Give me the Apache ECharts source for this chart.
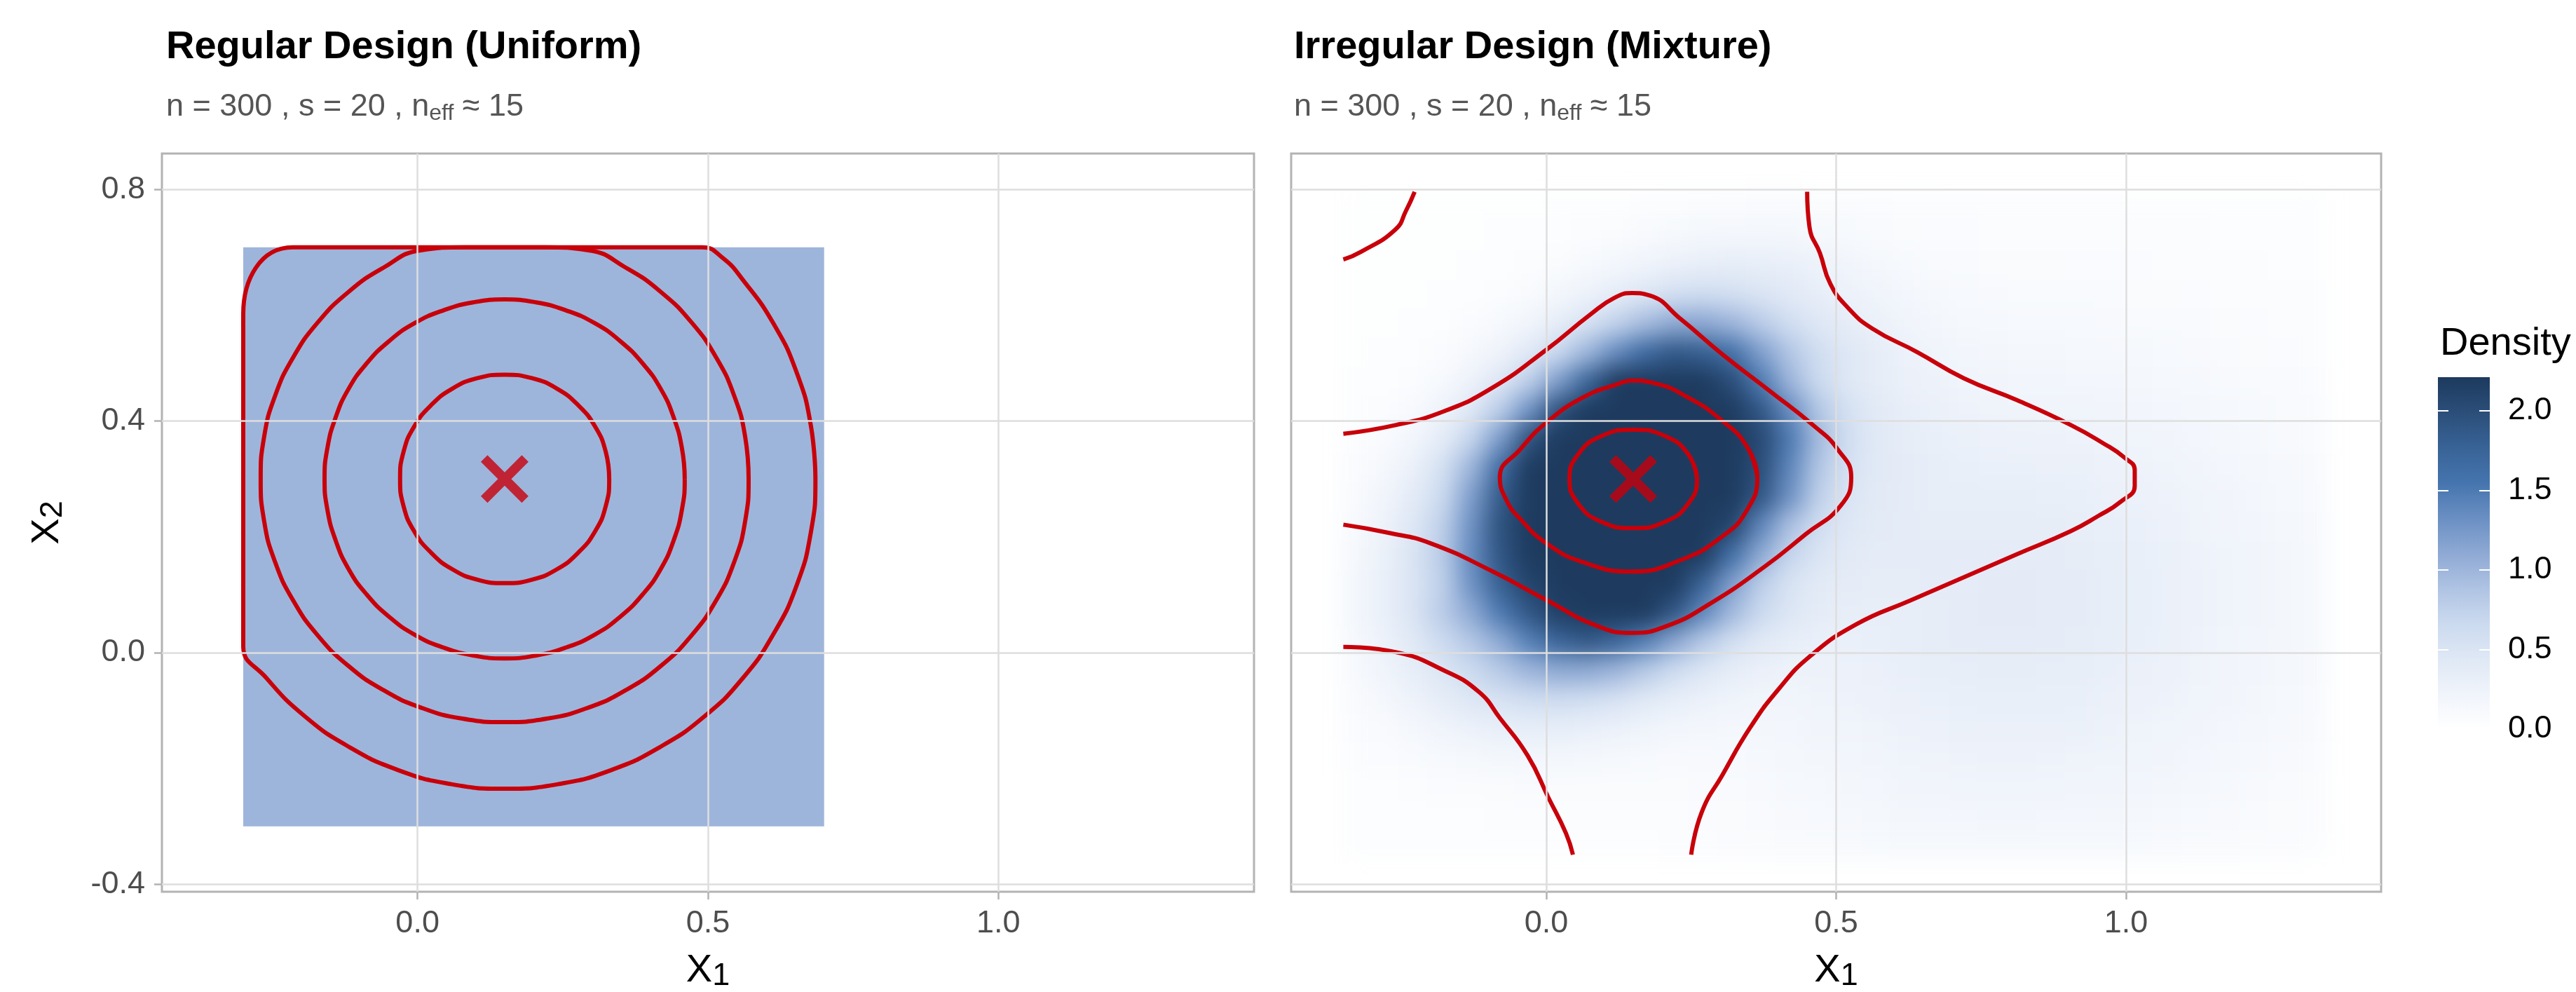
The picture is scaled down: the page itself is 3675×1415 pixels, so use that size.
<!DOCTYPE html>
<html>
<head>
<meta charset="utf-8">
<script src="https://cdn.jsdelivr.net/npm/echarts@6/dist/echarts.min.js"></script>
<style>
html, body { margin: 0; padding: 0; background: #fff; }
#chart { width: 3675px; height: 1415px; }
</style>
</head>
<body>
<div id="chart"></div>
<script>
var FONT = '"Liberation Sans", Arial, sans-serif';
var RED = '#C8000A';

// axis ticks
var xTicks = [0.0, 0.5, 1.0];
var yTicks = [-0.4, 0.0, 0.4, 0.8];
var legendTicks = [0.0, 0.5, 1.0, 1.5, 2.0];

// target point (the X)
var target = [[0.15, 0.30]];

// uniform design region: x0, y0, density, x1, y1
var uniformSquare = [[-0.3, -0.3, 1.0, 0.7, 0.7]];

// contours, left panel (regular design)
var leftC1 = [[0.33,0.30],[0.324,0.347],[0.306,0.39],[0.277,0.427],[0.24,0.456],[0.197,0.474],[0.15,0.48],[0.103,0.474],[0.06,0.456],[0.023,0.427],[-0.006,0.39],[-0.024,0.347],[-0.03,0.30],[-0.024,0.253],[-0.006,0.21],[0.023,0.173],[0.06,0.144],[0.103,0.126],[0.15,0.12],[0.197,0.126],[0.24,0.144],[0.277,0.173],[0.306,0.21],[0.324,0.253],[0.33,0.30],[0.324,0.347]];
var leftC2 = [[0.46,0.30],[0.455,0.354],[0.441,0.406],[0.419,0.455],[0.388,0.499],[0.349,0.538],[0.305,0.569],[0.256,0.591],[0.204,0.605],[0.15,0.61],[0.096,0.605],[0.044,0.591],[-0.005,0.569],[-0.049,0.538],[-0.088,0.499],[-0.119,0.455],[-0.141,0.406],[-0.155,0.354],[-0.16,0.30],[-0.155,0.246],[-0.141,0.194],[-0.119,0.145],[-0.088,0.101],[-0.049,0.062],[-0.005,0.031],[0.044,0.009],[0.096,-0.005],[0.15,-0.01],[0.204,-0.005],[0.256,0.009],[0.305,0.031],[0.349,0.062],[0.388,0.101],[0.419,0.145],[0.441,0.194],[0.455,0.246],[0.46,0.30],[0.455,0.354]];
var leftC3 = [[0.57,0.30],[0.564,0.373],[0.545,0.444],[0.514,0.51],[0.472,0.57],[0.42,0.622],[0.36,0.664],[0.294,0.695],[0.22,0.70],[0.15,0.70],[0.08,0.70],[0.006,0.695],[-0.06,0.664],[-0.12,0.622],[-0.172,0.57],[-0.214,0.51],[-0.245,0.444],[-0.264,0.373],[-0.27,0.30],[-0.264,0.227],[-0.245,0.156],[-0.214,0.09],[-0.172,0.03],[-0.12,-0.022],[-0.06,-0.064],[0.006,-0.095],[0.077,-0.114],[0.15,-0.12],[0.223,-0.114],[0.294,-0.095],[0.36,-0.064],[0.42,-0.022],[0.472,0.03],[0.514,0.09],[0.545,0.156],[0.564,0.227],[0.57,0.30],[0.564,0.373]];
var leftC4 = [[0.685,0.30],[0.677,0.393],[0.653,0.483],[0.613,0.568],[0.56,0.644],[0.525,0.682],[0.49,0.70],[0.40,0.70],[0.15,0.70],[-0.10,0.70],[-0.215,0.70],[-0.30,0.585],[-0.30,0.56],[-0.30,0.30],[-0.30,0.04],[-0.30,0.011],[-0.26,-0.044],[-0.194,-0.11],[-0.1175,-0.163],[-0.033,-0.203],[0.057,-0.227],[0.15,-0.235],[0.243,-0.227],[0.333,-0.203],[0.4175,-0.163],[0.494,-0.11],[0.56,-0.044],[0.613,0.0325],[0.653,0.117],[0.677,0.207],[0.685,0.30],[0.677,0.393]];

// contours, right panel (irregular design)
var rightC1 = [[0.26,0.30],[0.245,0.3425],[0.205,0.374],[0.15,0.385],[0.095,0.374],[0.055,0.3425],[0.04,0.30],[0.055,0.2575],[0.095,0.226],[0.15,0.215],[0.205,0.226],[0.245,0.2575],[0.26,0.30],[0.245,0.3425]];
var rightC2 = [[0.364,0.303],[0.346,0.356],[0.304,0.40],[0.244,0.441],[0.184,0.466],[0.148,0.47],[0.124,0.464],[0.064,0.441],[0.0,0.397],[-0.044,0.352],[-0.08,0.303],[-0.068,0.262],[-0.044,0.23],[0.0,0.189],[0.064,0.156],[0.148,0.14],[0.232,0.16],[0.304,0.201],[0.346,0.246],[0.364,0.303],[0.346,0.356]];
var rightC3 = [[-0.35,0.378],[-0.26,0.393],[-0.176,0.417],[-0.092,0.458],[0.0,0.523],[0.076,0.584],[0.118,0.613],[0.148,0.621],[0.178,0.617],[0.232,0.576],[0.304,0.515],[0.388,0.45],[0.46,0.393],[0.502,0.352],[0.526,0.303],[0.508,0.254],[0.448,0.205],[0.376,0.148],[0.28,0.083],[0.208,0.046],[0.148,0.034],[0.088,0.046],[0.0,0.091],[-0.092,0.14],[-0.2,0.189],[-0.272,0.207],[-0.35,0.221]];
var rightC4 = [[-0.35,0.679],[-0.32,0.692],[-0.26,0.731],[-0.242,0.763],[-0.227,0.796]];
var rightC5 = [[-0.35,0.01],[-0.26,0.001],[-0.176,-0.031],[-0.116,-0.068],[-0.08,-0.113],[-0.032,-0.178],[0.004,-0.251],[0.034,-0.312],[0.046,-0.349]];
var rightC6 = [[0.45,0.796],[0.454,0.735],[0.472,0.69],[0.49,0.637],[0.52,0.596],[0.562,0.56],[0.64,0.519],[0.72,0.474],[0.812,0.436],[0.905,0.393],[0.96,0.362],[0.997,0.337],[1.015,0.315],[1.015,0.288],[0.99,0.26],[0.952,0.236],[0.905,0.21],[0.812,0.17],[0.72,0.13],[0.628,0.09],[0.535,0.049],[0.454,-0.007],[0.4,-0.064],[0.352,-0.129],[0.304,-0.211],[0.268,-0.276],[0.25,-0.349]];

// density grid (cell centres) and values, bottom row first
var gridX = [-0.33,-0.28,-0.23,-0.18,-0.13,-0.08,-0.03,0.02,0.07,0.12,0.17,0.22,0.27,0.32,0.37,0.42,0.47,0.52,0.57,0.62,0.67,0.72,0.77,0.82,0.87,0.92,0.97,1.02,1.07,1.12,1.17,1.22,1.27,1.32];
var gridY = [-0.33,-0.28,-0.23,-0.18,-0.13,-0.08,-0.03,0.02,0.07,0.12,0.17,0.22,0.27,0.32,0.37,0.42,0.47,0.52,0.57,0.62,0.67,0.72,0.77];
var densityRows = [
  [0.04,0.04,0.04,0.04,0.04,0.04,0.04,0.05,0.05,0.05,0.05,0.06,0.07,0.08,0.09,0.10,0.11,0.12,0.13,0.14,0.15,0.15,0.15,0.15,0.15,0.15,0.14,0.13,0.12,0.11,0.10,0.09,0.08,0.07],
  [0.04,0.04,0.05,0.05,0.05,0.06,0.06,0.06,0.06,0.06,0.07,0.07,0.08,0.09,0.10,0.12,0.13,0.14,0.16,0.17,0.18,0.18,0.19,0.19,0.18,0.18,0.17,0.16,0.15,0.13,0.12,0.11,0.09,0.08],
  [0.04,0.05,0.06,0.08,0.09,0.09,0.10,0.09,0.09,0.09,0.09,0.09,0.10,0.11,0.12,0.14,0.15,0.17,0.18,0.20,0.21,0.22,0.22,0.22,0.22,0.21,0.20,0.19,0.17,0.16,0.14,0.12,0.11,0.09],
  [0.06,0.08,0.10,0.13,0.15,0.17,0.18,0.17,0.16,0.15,0.13,0.12,0.12,0.13,0.14,0.16,0.17,0.19,0.21,0.23,0.24,0.25,0.26,0.26,0.25,0.24,0.23,0.22,0.20,0.18,0.16,0.14,0.12,0.11],
  [0.08,0.11,0.16,0.22,0.27,0.32,0.34,0.34,0.31,0.27,0.23,0.19,0.17,0.16,0.17,0.18,0.20,0.22,0.24,0.26,0.27,0.28,0.29,0.29,0.29,0.28,0.26,0.24,0.22,0.20,0.18,0.16,0.14,0.12],
  [0.10,0.16,0.25,0.35,0.45,0.53,0.60,0.63,0.60,0.53,0.43,0.34,0.27,0.23,0.21,0.21,0.23,0.25,0.27,0.29,0.30,0.31,0.32,0.32,0.32,0.31,0.29,0.27,0.25,0.22,0.20,0.17,0.15,0.13],
  [0.13,0.22,0.34,0.48,0.65,0.82,1.00,1.10,1.10,1.00,0.82,0.63,0.47,0.35,0.29,0.26,0.26,0.27,0.29,0.31,0.33,0.34,0.35,0.35,0.34,0.33,0.31,0.29,0.27,0.24,0.21,0.19,0.16,0.14],
  [0.15,0.26,0.43,0.64,0.85,1.10,1.45,1.75,1.88,1.74,1.46,1.13,0.83,0.59,0.42,0.34,0.30,0.30,0.31,0.33,0.35,0.36,0.37,0.37,0.36,0.35,0.33,0.31,0.28,0.25,0.22,0.19,0.17,0.14],
  [0.17,0.30,0.50,0.80,1.10,1.50,1.90,2.15,2.2,2.2,2.2,1.90,1.39,0.97,0.66,0.47,0.37,0.33,0.33,0.34,0.35,0.37,0.38,0.38,0.37,0.36,0.34,0.32,0.29,0.26,0.23,0.20,0.17,0.15],
  [0.17,0.30,0.50,0.75,1.30,1.80,2.10,2.2,2.2,2.2,2.2,2.2,1.75,1.20,0.78,0.52,0.40,0.36,0.35,0.35,0.36,0.37,0.38,0.38,0.37,0.36,0.34,0.32,0.29,0.26,0.23,0.20,0.17,0.15],
  [0.15,0.28,0.50,0.80,1.35,1.90,2.2,2.2,2.2,2.2,2.2,2.2,2.2,1.60,1.10,0.70,0.50,0.40,0.37,0.36,0.36,0.36,0.37,0.37,0.36,0.35,0.33,0.31,0.28,0.25,0.23,0.20,0.17,0.14],
  [0.13,0.25,0.45,0.75,1.30,1.95,2.2,2.2,2.2,2.2,2.2,2.2,2.2,2.10,1.40,0.90,0.60,0.45,0.39,0.36,0.35,0.35,0.35,0.35,0.35,0.33,0.32,0.30,0.27,0.24,0.21,0.19,0.16,0.14],
  [0.10,0.20,0.38,0.65,1.20,1.85,2.2,2.2,2.2,2.2,2.2,2.2,2.2,2.2,1.90,1.30,0.75,0.50,0.40,0.36,0.34,0.33,0.33,0.33,0.32,0.31,0.29,0.27,0.25,0.23,0.20,0.18,0.15,0.13],
  [0.08,0.14,0.29,0.56,1.00,1.65,2.2,2.2,2.2,2.2,2.2,2.2,2.2,2.2,2.00,1.40,0.85,0.55,0.42,0.36,0.33,0.31,0.30,0.30,0.29,0.28,0.27,0.25,0.23,0.21,0.18,0.16,0.14,0.12],
  [0.06,0.10,0.19,0.37,0.70,1.22,1.96,2.2,2.2,2.2,2.2,2.2,2.2,2.2,2.05,1.50,0.95,0.60,0.42,0.35,0.31,0.28,0.27,0.26,0.26,0.25,0.24,0.22,0.20,0.18,0.16,0.14,0.12,0.11],
  [0.04,0.07,0.12,0.23,0.44,0.78,1.29,1.96,2.2,2.2,2.2,2.2,2.2,2.2,1.90,1.35,0.85,0.55,0.40,0.33,0.28,0.25,0.24,0.23,0.22,0.22,0.21,0.19,0.18,0.16,0.14,0.13,0.11,0.10],
  [0.04,0.05,0.07,0.13,0.25,0.45,0.76,1.20,1.72,2.2,2.2,2.2,2.2,2.00,1.50,1.00,0.65,0.45,0.35,0.29,0.26,0.22,0.20,0.19,0.19,0.18,0.18,0.16,0.15,0.14,0.12,0.11,0.10,0.08],
  [0.03,0.04,0.05,0.08,0.14,0.24,0.42,0.67,0.99,1.35,1.66,1.87,1.80,1.60,1.20,0.85,0.60,0.45,0.35,0.27,0.22,0.19,0.17,0.16,0.16,0.15,0.15,0.14,0.13,0.12,0.10,0.09,0.08,0.07],
  [0.03,0.03,0.04,0.05,0.08,0.13,0.21,0.35,0.52,0.73,0.94,1.10,1.12,1.00,0.80,0.60,0.45,0.35,0.28,0.22,0.18,0.15,0.14,0.13,0.13,0.13,0.12,0.11,0.11,0.10,0.09,0.08,0.07,0.06],
  [0.03,0.03,0.03,0.04,0.05,0.07,0.11,0.17,0.26,0.37,0.48,0.58,0.62,0.58,0.50,0.42,0.33,0.27,0.22,0.18,0.14,0.13,0.12,0.11,0.11,0.10,0.10,0.09,0.09,0.08,0.07,0.07,0.06,0.06],
  [0.03,0.03,0.03,0.03,0.04,0.05,0.06,0.09,0.13,0.18,0.23,0.29,0.33,0.35,0.34,0.31,0.26,0.21,0.16,0.13,0.11,0.10,0.09,0.09,0.09,0.08,0.08,0.08,0.07,0.07,0.06,0.06,0.05,0.05],
  [0.03,0.03,0.03,0.03,0.03,0.04,0.04,0.05,0.07,0.09,0.12,0.14,0.17,0.18,0.18,0.17,0.15,0.13,0.11,0.09,0.08,0.08,0.07,0.07,0.07,0.07,0.07,0.06,0.06,0.06,0.05,0.05,0.05,0.04],
  [0.03,0.03,0.03,0.03,0.03,0.03,0.03,0.04,0.04,0.05,0.06,0.07,0.09,0.09,0.10,0.10,0.09,0.09,0.08,0.07,0.07,0.06,0.06,0.06,0.06,0.06,0.06,0.05,0.05,0.05,0.05,0.04,0.04,0.04]
];
var densityMax = 2.21;
var densityColors = ['#ffffff','#f0f4fb','#dfe8f5','#cbdaef','#afc3e3','#8ea9d4','#6a8fc3','#4574ae','#386396','#2b4e79','#1d3a5e'];

var densityData = [];
densityRows.forEach(function (row, j) {
  row.forEach(function (v, i) { densityData.push([gridX[i], gridY[j], v]); });
});
var halfW = (gridX[1] - gridX[0]) / 2;
var halfH = (gridY[1] - gridY[0]) / 2;

var chart = echarts.init(document.getElementById('chart'));

function fmt(v) { return v.toFixed(1); }

var nameStyle = {
  color: '#000', fontFamily: FONT,
  rich: {
    m: { fontSize: 56, lineHeight: 60, fontFamily: FONT, color: '#000' },
    s: { fontSize: 45, lineHeight: 38, verticalAlign: 'bottom', fontFamily: FONT, color: '#000' }
  }
};
var tickStyle = { color: '#B3B3B3', width: 2.5 };
var gridLine = { show: true, lineStyle: { color: '#DEDEDE', width: 2.5 } };
var labelStyle = { color: '#4D4D4D', fontSize: 45, fontFamily: FONT, formatter: fmt };

function xAxisFor(g) {
  return {
    gridIndex: g, type: 'value', min: -0.44, max: 1.44, z: 10,
    name: '{m|X}{s|1}', nameLocation: 'middle', nameGap: 83, nameTextStyle: nameStyle,
    axisLine: { show: false, onZero: false },
    axisTick: { show: true, length: 11, customValues: xTicks, lineStyle: tickStyle },
    axisLabel: Object.assign({ customValues: xTicks, margin: 23 }, labelStyle),
    splitLine: gridLine
  };
}

var subRich = {
  a: { fontSize: 45, lineHeight: 50, fontWeight: 'normal', color: '#555', fontFamily: FONT },
  b: { fontSize: 32, lineHeight: 22, fontWeight: 'normal', verticalAlign: 'bottom', color: '#555', fontFamily: FONT }
};
var subText = '{a|n = 300 , s = 20 , n}{b|eff}{a| \u2248 15}';
var titleStyle = { fontSize: 56, lineHeight: 56, fontWeight: 'bold', color: '#000', fontFamily: FONT };

function contour(data, g) {
  return {
    type: 'line', xAxisIndex: g, yAxisIndex: g, data: data, smooth: 0.5,
    showSymbol: false, silent: true, z: 4,
    lineStyle: { color: RED, width: 6 }
  };
}

var xSymbol = 'path://M14,0 L50,36 L86,0 L100,14 L64,50 L100,86 L86,100 L50,64 L14,100 L0,86 L36,50 L0,14 Z';

var option = {
  animation: false,
  backgroundColor: 'transparent',
  title: [
    { text: 'Regular Design (Uniform)', left: 232, top: 35, textStyle: titleStyle },
    { text: subText, left: 232, top: 123, textStyle: { fontWeight: 'normal', rich: subRich } },
    { text: 'Irregular Design (Mixture)', left: 1841, top: 35, textStyle: titleStyle },
    { text: subText, left: 1841, top: 123, textStyle: { fontWeight: 'normal', rich: subRich } },
    { text: 'Density', left: 3476, top: 458, textStyle: { fontSize: 56, lineHeight: 56, fontWeight: 'normal', color: '#000', fontFamily: FONT } }
  ],
  grid: [
    { left: 231, top: 219, width: 1558, height: 1053, show: true, borderColor: '#B3B3B3', borderWidth: 3, backgroundColor: 'transparent', outerBoundsMode: 'none' },
    { left: 1842, top: 219, width: 1555, height: 1053, show: true, borderColor: '#B3B3B3', borderWidth: 3, backgroundColor: 'transparent', outerBoundsMode: 'none' },
    { left: 3478, top: 538, width: 74, height: 502, outerBoundsMode: 'none' }
  ],
  xAxis: [
    xAxisFor(0),
    xAxisFor(1),
    { gridIndex: 2, type: 'value', min: 0, max: 1, show: false }
  ],
  yAxis: [
    {
      gridIndex: 0, type: 'value', min: -0.413, max: 0.862, z: 10,
      name: '{m|X}{s|2}', nameLocation: 'middle', nameGap: 133, nameRotate: 90, nameTextStyle: nameStyle,
      axisLine: { show: false, onZero: false },
      axisTick: { show: true, length: 11, customValues: yTicks, lineStyle: tickStyle },
      axisLabel: Object.assign({ customValues: yTicks, margin: 24 }, labelStyle),
      splitLine: gridLine
    },
    {
      gridIndex: 1, type: 'value', min: -0.413, max: 0.862, z: 10,
      axisLine: { show: false, onZero: false },
      axisTick: { show: false, customValues: yTicks },
      axisLabel: { show: false, customValues: yTicks },
      splitLine: gridLine
    },
    {
      gridIndex: 2, type: 'value', min: 0, max: densityMax, position: 'right', z: 10,
      axisLine: { show: false, onZero: false },
      axisTick: { show: true, inside: true, length: 15, customValues: legendTicks, lineStyle: { color: '#fff', width: 2 } },
      axisLabel: { customValues: legendTicks, formatter: fmt, margin: 26, color: '#000', fontSize: 45, fontFamily: FONT },
      splitLine: { show: false }
    },
    {
      gridIndex: 2, type: 'value', min: 0, max: densityMax, position: 'left', z: 10,
      axisLine: { show: false, onZero: false },
      axisTick: { show: true, inside: true, length: 15, customValues: legendTicks, lineStyle: { color: '#fff', width: 2 } },
      axisLabel: { show: false },
      splitLine: { show: false }
    }
  ],
  visualMap: {
    type: 'continuous', show: false, min: 0, max: densityMax, dimension: 2,
    seriesIndex: [0, 1], inRange: { color: densityColors }
  },
  series: [
    {
      type: 'custom', xAxisIndex: 0, yAxisIndex: 0, data: uniformSquare, silent: true, z: 1,
      encode: { x: [0, 3], y: [1, 4] },
      renderItem: function (params, api) {
        var a = api.coord([api.value(0), api.value(4)]);
        var b = api.coord([api.value(3), api.value(1)]);
        return { type: 'rect', shape: { x: a[0], y: a[1], width: b[0] - a[0], height: b[1] - a[1] }, style: { fill: api.visual('color') } };
      }
    },
    {
      // the density raster sits on its own canvas layer so it can be softened
      type: 'custom', xAxisIndex: 1, yAxisIndex: 1, data: densityData, silent: true, zlevel: -1, z: 1,
      encode: { x: 0, y: 1 },
      renderItem: function (params, api) {
        var x = api.value(0), y = api.value(1);
        var a = api.coord([x - halfW, y + halfH]);
        var b = api.coord([x + halfW, y - halfH]);
        return { type: 'rect', shape: { x: a[0], y: a[1], width: b[0] - a[0] + 0.8, height: b[1] - a[1] + 0.8 }, style: { fill: api.visual('color') } };
      }
    },
    contour(leftC1, 0), contour(leftC2, 0), contour(leftC3, 0), contour(leftC4, 0),
    contour(rightC1, 1), contour(rightC2, 1), contour(rightC3, 1),
    contour(rightC4, 1), contour(rightC5, 1), contour(rightC6, 1),
    {
      type: 'scatter', xAxisIndex: 0, yAxisIndex: 0, data: target, silent: true, z: 5,
      symbol: xSymbol, symbolSize: 68, itemStyle: { color: RED }
    },
    {
      type: 'scatter', xAxisIndex: 1, yAxisIndex: 1, data: target, silent: true, z: 5,
      symbol: xSymbol, symbolSize: 68, itemStyle: { color: RED }
    },
    {
      type: 'custom', xAxisIndex: 2, yAxisIndex: 2, data: [[0, 0, 1, densityMax]], silent: true, z: 1,
      renderItem: function (params, api) {
        var a = api.coord([api.value(0), api.value(3)]);
        var b = api.coord([api.value(2), api.value(1)]);
        var stops = densityColors.map(function (c, k) { return { offset: k / (densityColors.length - 1), color: c }; });
        return { type: 'rect', shape: { x: a[0], y: a[1], width: b[0] - a[0], height: b[1] - a[1] },
          style: { fill: new echarts.graphic.LinearGradient(0, 1, 0, 0, stops) } };
      }
    }
  ]
};
chart.setOption(option);

// soften the blocky raster like ggplot's interpolated raster
function softenRaster() {
  var painter = chart.getZr().painter;
  var layer = painter && painter.getLayer ? painter.getLayer(-1) : null;
  if (layer && layer.dom) layer.dom.style.filter = 'blur(16px)';
}
softenRaster();
chart.on('finished', softenRaster);
</script>
</body>
</html>
